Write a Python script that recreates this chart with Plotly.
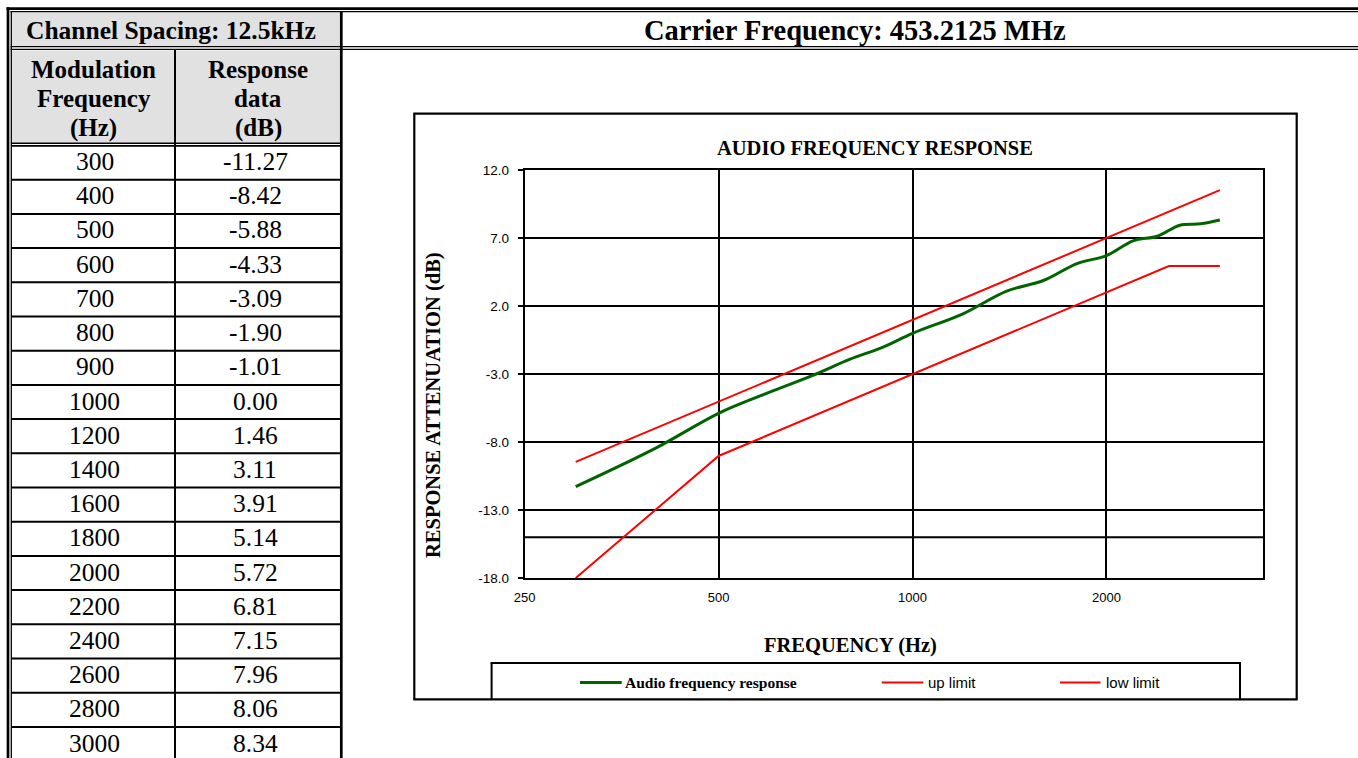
import plotly.graph_objects as go

W, H = 1358, 758

# ---------------- data ----------------
mod_freq_hz = [300, 400, 500, 600, 700, 800, 900, 1000, 1200, 1400, 1600, 1800,
               2000, 2200, 2400, 2600, 2800, 3000]
response_db = [-11.27, -8.42, -5.88, -4.33, -3.09, -1.90, -1.01, 0.00, 1.46, 3.11,
               3.91, 5.14, 5.72, 6.81, 7.15, 7.96, 8.06, 8.34]
up_limit_freq = [300, 3000]
up_limit_db = [-9.46, 10.54]
low_limit_freq = [300, 500, 2500, 3000]
low_limit_db = [-18.0, -9.02, 4.96, 4.96]
series_names = ["Audio frequency response", "up limit", "low limit"]
x_tick_vals = [250, 500, 1000, 2000]
y_tick_vals = [-18, -13, -8, -3, 2, 7, 12]
extra_grid_db = [-15]
channel_spacing_label = "Channel Spacing: 12.5kHz"
carrier_label = "Carrier Frequency: 453.2125 MHz"
col1_header = ["Modulation", "Frequency", "(Hz)"]
col2_header = ["Response", "data", "(dB)"]
chart_title = "AUDIO FREQUENCY RESPONSE"
x_title = "FREQUENCY (Hz)"
y_title = "RESPONSE ATTENUATION (dB)"

# ---------------- styles ----------------
SERIF = "Liberation Serif, Times New Roman, serif"
SANS = "Liberation Sans, Arial, sans-serif"
GREEN = "#006400"
RED = "#ff0000"
GRAY = "#e1e1e1"


def px(x):
    return x / W


def py(y):
    return 1 - y / H


shapes = []
annotations = []


def hline(y, x0, x1, w=2.0):
    shapes.append(dict(type="line", xref="paper", yref="paper", x0=px(x0), x1=px(x1),
                       y0=py(y), y1=py(y), line=dict(color="black", width=w), layer="above"))


def vline(x, y0, y1, w=2.0):
    shapes.append(dict(type="line", xref="paper", yref="paper", x0=px(x), x1=px(x),
                       y0=py(y0), y1=py(y1), line=dict(color="black", width=w), layer="above"))


def rect(x0, y0, x1, y1, fill):
    shapes.append(dict(type="rect", xref="paper", yref="paper", x0=px(x0), x1=px(x1),
                       y0=py(y0), y1=py(y1), fillcolor=fill, line=dict(width=0), layer="below"))


def text(x, y, s, size, family=SERIF, bold=False, anchor="center", angle=0):
    annotations.append(dict(x=px(x), y=py(y), xref="paper", yref="paper", showarrow=False,
                            text=f"<b>{s}</b>" if bold else s, xanchor=anchor, yanchor="middle",
                            textangle=angle, font=dict(family=family, size=size, color="black")))


# ---------------- page table ----------------
TABLE_L, COL_DIV, TABLE_R = 11.3, 175.0, 341.3
ROW_TOP0, ROW_H = 145.5, 34.2

rect(12, 12.5, 340, 46, GRAY)
rect(12, 50.5, 340, 142.7, GRAY)

# outer double borders
hline(8.7, 6.5, W, 2.7)
hline(11.7, 10.5, W, 1.3)
vline(8.0, 7.3, H, 2.7)
vline(11.3, 11.0, H, 1.3)
# double line below the first header row
hline(46.6, 10.5, W, 1.4)
hline(49.4, 10.5, W, 1.4)
# right border of the table / divider between header cells
vline(TABLE_R, 11.0, H, 2.7)
# column divider
vline(COL_DIV, 49.4, H, 2.0)
# double line below the table header
hline(143.3, TABLE_L, TABLE_R, 1.4)
hline(145.9, TABLE_L, TABLE_R, 1.6)

for k in range(1, len(mod_freq_hz) + 1):
    hline(ROW_TOP0 + k * ROW_H, TABLE_L, TABLE_R, 2.0)

text(171, 30.5, channel_spacing_label, 25.5, bold=True)
text(855, 30.5, carrier_label, 28.5, bold=True)

for i, (a, b) in enumerate(zip(col1_header, col2_header)):
    yy = 69.5 + i * 29.0
    text(93.5, yy, a, 25, bold=True)
    text(258, yy, b, 25, bold=True)

for k, (f, r) in enumerate(zip(mod_freq_hz, response_db)):
    yy = ROW_TOP0 + (k + 0.5) * ROW_H - 1
    text(94.5, yy, f"{f}", 25.5)
    text(255, yy, f"{r:.2f}", 25.5)

# ---------------- chart frame ----------------
CH_L, CH_T, CH_R, CH_B = 414.3, 113.7, 1296.7, 699.3
hline(CH_T, CH_L - 1, CH_R + 1, 2.2)
hline(CH_B, CH_L - 1, CH_R + 1, 2.2)
vline(CH_L, CH_T, CH_B, 2.2)
vline(CH_R, CH_T, CH_B, 2.2)

# legend box (bottom is the frame)
LG_L, LG_T, LG_R = 491.6, 663.0, 1240.0
hline(LG_T, LG_L - 1, LG_R + 1, 2.0)
vline(LG_L, LG_T, CH_B, 2.0)
vline(LG_R, LG_T, CH_B, 2.0)

PLOT_L, PLOT_T, PLOT_R, PLOT_B = 524.7, 170.3, 1263.0, 578.0

text(875, 148.5, chart_title, 20.5, bold=True)
text(850, 645, x_title, 20.5, bold=True)
text(433, 405, y_title, 20.5, bold=True, angle=-90)

# ---------------- traces ----------------
fig = go.Figure()
fig.add_trace(go.Scatter(x=mod_freq_hz, y=response_db, mode="lines", name=series_names[0],
                         line=dict(color=GREEN, width=3, shape="spline", smoothing=1.0),
                         showlegend=False))
fig.add_trace(go.Scatter(x=up_limit_freq, y=up_limit_db, mode="lines", name=series_names[1],
                         line=dict(color=RED, width=2), showlegend=False))
fig.add_trace(go.Scatter(x=low_limit_freq, y=low_limit_db, mode="lines", name=series_names[2],
                         line=dict(color=RED, width=2), showlegend=False))

# manual legend entries (line sample + label), matching the trace styles
LEGEND_Y = 682.5
legend_slots = [(580.0, 621.7, 623.0, SERIF, 15.5, True),
                (881.7, 923.3, 926.0, SANS, 15, False),
                (1060.0, 1100.5, 1104.0, SANS, 15, False)]
for tr, (x0, x1, xt, fam, fs, bold) in zip(fig.data, legend_slots):
    shapes.append(dict(type="line", xref="paper", yref="paper", x0=px(x0), x1=px(x1),
                       y0=py(LEGEND_Y), y1=py(LEGEND_Y),
                       line=dict(color=tr.line.color, width=tr.line.width), layer="above"))
    text(xt, LEGEND_Y, tr.name, fs, family=fam, bold=bold, anchor="left")

# extra horizontal reference line at -15 dB
for v in extra_grid_db:
    shapes.append(dict(type="line", xref="x domain", yref="y", x0=0, x1=1, y0=v, y1=v,
                       line=dict(color="black", width=2), layer="below"))

fig.update_layout(
    template="none",
    width=W, height=H, margin=dict(l=0, r=0, t=0, b=0, pad=0, autoexpand=False),
    paper_bgcolor="white", plot_bgcolor="rgba(0,0,0,0)",
    shapes=shapes, annotations=annotations, showlegend=False,
    xaxis=dict(type="log", domain=[px(PLOT_L), px(PLOT_R)], automargin=False,
               range=[2.39794, 3.544068],
               tickvals=x_tick_vals, ticktext=[str(v) for v in x_tick_vals],
               showgrid=True, gridcolor="black", gridwidth=2,
               showline=True, linecolor="black", linewidth=2, mirror=True,
               ticks="", ticklabelstandoff=6,
               tickfont=dict(family=SANS, size=13, color="black"), zeroline=False),
    yaxis=dict(domain=[py(PLOT_B), py(PLOT_T)], range=[-18, 12], automargin=False,
               tickvals=y_tick_vals, ticktext=[f"{v:.1f}" for v in y_tick_vals],
               showgrid=True, gridcolor="black", gridwidth=2,
               showline=True, linecolor="black", linewidth=2, mirror=True,
               ticks="outside", ticklen=5, tickwidth=2, tickcolor="black",
               ticklabelstandoff=6,
               tickfont=dict(family=SANS, size=13.5, color="black"), zeroline=False),
)

fix_page = (
    "document.documentElement.style.margin='0';"
    "document.documentElement.style.padding='0';"
    "document.body.style.margin='0';document.body.style.padding='0';"
    "document.body.style.overflow='hidden';"
    "var gd=document.getElementById('{plot_id}');"
    "gd.style.position='fixed';gd.style.left='0px';gd.style.top='0px';"
)

fig.write_html("out.html", config={"displayModeBar": False, "responsive": False},
               post_script=fix_page)
